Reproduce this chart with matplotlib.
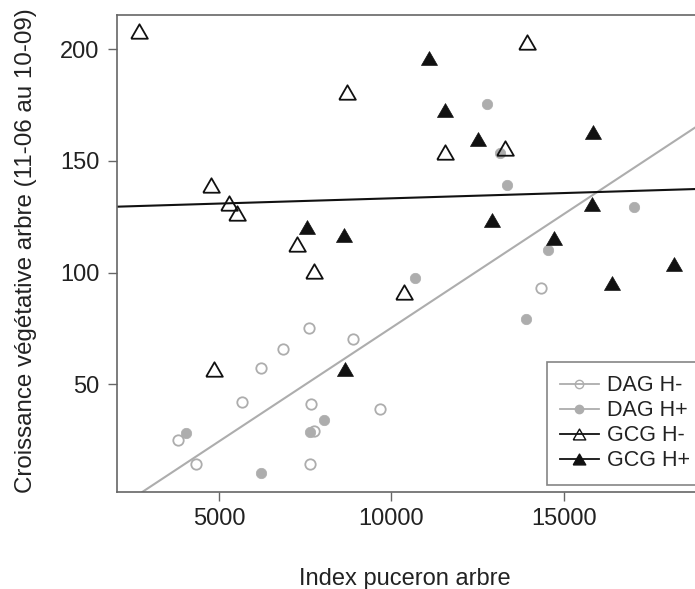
# -*- coding: utf-8 -*-

"""
Croissance vegetative des arbres en fonction de l'index puceron.
"""

# *****************************************************************************
# *** Import modules
import numpy as np
import matplotlib
matplotlib.use('Agg')
import matplotlib.pyplot as plt
from matplotlib.lines import Line2D
# *****************************************************************************


# *****************************************************************************
# *** Data

# DAG H- (open grey circles):
lstDagMnsX = [7604, 8888, 6867, 6221, 5678, 7679, 9680, 7749, 3814, 4345,
              7633, 14330]
lstDagMnsY = [75.1, 70.3, 65.9, 57.3, 41.9, 41.2, 38.9, 29.1, 25.1, 14.2,
              14.2, 93.0]

# DAG H+ (filled grey circles):
lstDagPlsX = [12782, 13150, 13353, 17027, 14551, 10686, 13895, 4055, 8039,
              7633, 6221]
lstDagPlsY = [175.3, 153.4, 139.2, 129.4, 110.1, 97.4, 79.1, 28.3, 34.0,
              28.8, 10.2]

# GCG H- (open black triangles):
lstGcgMnsX = [2675, 8714, 4771, 5293, 5533, 7273, 13924, 11556, 13295, 7749,
              10358, 4858]
lstGcgMnsY = [208.3, 181.0, 139.2, 131.0, 126.8, 112.7, 203.1, 154.1, 155.9,
              100.7, 91.5, 56.7]

# GCG H+ (filled black triangles):
lstGcgPlsX = [7554, 8618, 11092, 11556, 12521, 15855, 15809, 12927, 14707,
              18204, 16389, 8647]
lstGcgPlsY = [120.5, 116.8, 195.9, 172.8, 159.8, 163.1, 130.6, 123.5, 115.6,
              103.8, 95.2, 56.8]

# Regression lines (intercept, slope):
lstFitDag = [-26.47, 0.010177]
lstFitGcg = [128.54, 0.000471]

# Labels:
lstLgnd = ['DAG H-', 'DAG H+', 'GCG H-', 'GCG H+']
lstXtck = [5000, 10000, 15000]
lstYtck = [50, 100, 150, 200]
strXlabel = 'Index puceron arbre'
strYlabel = 'Croissance végétative arbre (11-06 au 10-09)'
# *****************************************************************************


# *****************************************************************************
# *** Figure parameters

plt.rcParams['font.family'] = ['Liberation Sans', 'DejaVu Sans']

varSizeX = 695.0
varSizeY = 589.0
varDpi = 100.0

strGrey = '#adadad'
strBlack = '#111111'
strAxCol = '#666666'
strTxtCol = '#222222'

# Equilateral triangle marker (R pch 2 / 17 look):
aryTri = [(-1.0, -0.866), (1.0, -0.866), (0.0, 0.866), (-1.0, -0.866)]
# *****************************************************************************


# *****************************************************************************
# *** Plot

fgr01 = plt.figure(figsize=(varSizeX / varDpi, varSizeY / varDpi),
                   dpi=varDpi)

# Plot region runs past the right edge (the reference is cropped):
axs01 = fgr01.add_axes([116.5 / varSizeX,
                        (varSizeY - 492.0) / varSizeY,
                        (700.0 - 116.5) / varSizeX,
                        (492.0 - 15.0) / varSizeY])

axs01.set_xlim([2031, 18949])
axs01.set_ylim([1.8, 215.3])

# Regression lines:
axs01.axline((0.0, lstFitDag[0]), slope=lstFitDag[1], color=strGrey,
             linewidth=1.5, zorder=1)
axs01.axline((0.0, lstFitGcg[0]), slope=lstFitGcg[1], color=strBlack,
             linewidth=1.5, zorder=1)

# Points:
axs01.plot(lstDagMnsX, lstDagMnsY, linestyle='none', marker='o',
           markersize=7.5, markerfacecolor='none', markeredgecolor=strGrey,
           markeredgewidth=1.3, zorder=2)
axs01.plot(lstDagPlsX, lstDagPlsY, linestyle='none', marker='o',
           markersize=7.5, markerfacecolor=strGrey, markeredgecolor=strGrey,
           markeredgewidth=0.5, zorder=2)
axs01.plot(lstGcgMnsX, lstGcgMnsY, linestyle='none', marker=aryTri,
           markersize=12.0, markerfacecolor='none', markeredgecolor=strBlack,
           markeredgewidth=1.3, zorder=3)
axs01.plot(lstGcgPlsX, lstGcgPlsY, linestyle='none', marker=aryTri,
           markersize=11.5, markerfacecolor=strBlack, markeredgecolor=strBlack,
           markeredgewidth=0.5, zorder=3)

# Ticks:
axs01.set_xticks(lstXtck)
axs01.set_yticks(lstYtck)
axs01.set_xticklabels([str(x) for x in lstXtck])
axs01.set_yticklabels([str(x) for x in lstYtck])
axs01.tick_params(axis='both', labelsize=17, length=6.5, width=1.0,
                  color=strAxCol, labelcolor=strTxtCol)
axs01.tick_params(axis='x', pad=5)
axs01.tick_params(axis='y', pad=6)

# Appearance of axes:
for strTmp in ['top', 'bottom', 'left', 'right']:
    axs01.spines[strTmp].set_linewidth(1.2)
    axs01.spines[strTmp].set_color(strAxCol)

# Axis labels (placed on the figure):
fgr01.text(405.0 / varSizeX, 1.0 - 585.0 / varSizeY, strXlabel,
           fontsize=17, color=strTxtCol, ha='center', va='baseline')
fgr01.text(32.0 / varSizeX, 1.0 - 251.0 / varSizeY, strYlabel,
           fontsize=17.4, color=strTxtCol, ha='center', va='baseline',
           rotation=90, rotation_mode='anchor')

# Legend:
lstHndl = [Line2D([0], [0], color=strGrey, linewidth=1.3, marker='o',
                  markersize=6, markerfacecolor='none',
                  markeredgecolor=strGrey),
           Line2D([0], [0], color=strGrey, linewidth=1.3, marker='o',
                  markersize=6, markerfacecolor=strGrey,
                  markeredgecolor=strGrey),
           Line2D([0], [0], color=strBlack, linewidth=1.3, marker=aryTri,
                  markersize=9, markerfacecolor='none',
                  markeredgecolor=strBlack),
           Line2D([0], [0], color=strBlack, linewidth=1.3, marker=aryTri,
                  markersize=9, markerfacecolor=strBlack,
                  markeredgecolor=strBlack)]

lgd01 = axs01.legend(lstHndl, lstLgnd, loc='upper left',
                     bbox_to_anchor=(546.7 / varSizeX,
                                     1.0 - 361.7 / varSizeY,
                                     0.4, 0.0),
                     bbox_transform=fgr01.transFigure,
                     mode='expand',
                     fontsize=15.5, frameon=True, fancybox=False,
                     borderpad=0.62, handlelength=1.8, handletextpad=0.4,
                     labelspacing=0.19, borderaxespad=0.0)
lgd01.get_frame().set_edgecolor(strAxCol)
lgd01.get_frame().set_linewidth(1.2)
for txtTmp in lgd01.get_texts():
    txtTmp.set_color(strTxtCol)

# Save figure:
fgr01.savefig('out.png', dpi=varDpi, facecolor='w')
plt.close(fgr01)
# *****************************************************************************
